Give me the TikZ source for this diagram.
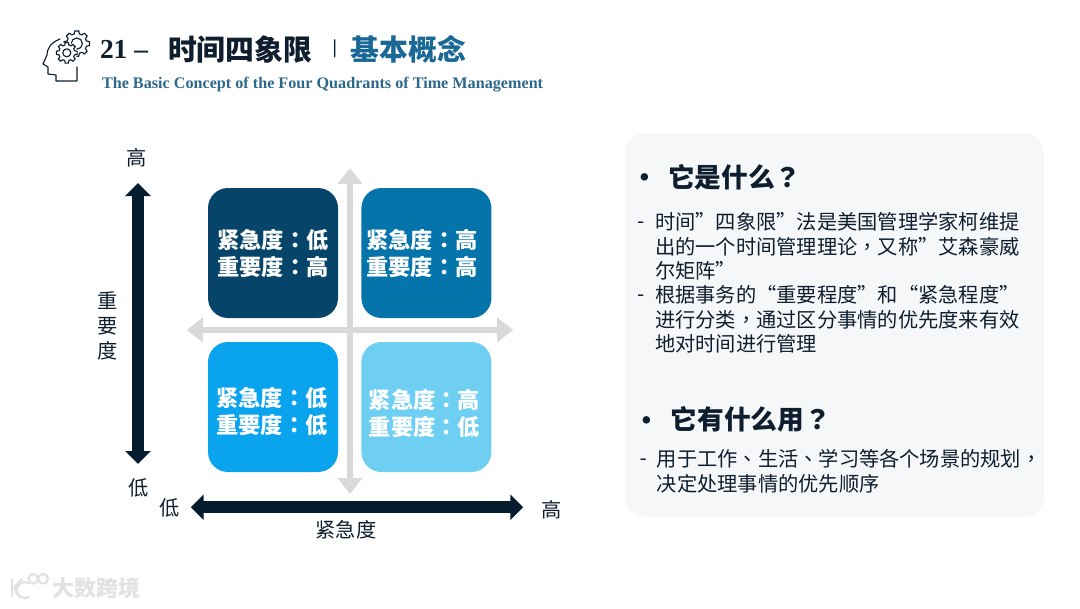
\documentclass[tikz,border=0pt]{standalone}
\usepackage{fontspec}
\setmainfont{Liberation Serif}
\newfontfamily\cjk{Noto Sans CJK SC}
\newfontfamily\cjkpunct{Noto Sans CJK TC}
\usetikzlibrary{arrows.meta, positioning}
\definecolor{titleink}{RGB}{14, 30, 46}
\definecolor{titleblue}{RGB}{26, 104, 150}
\definecolor{subblue}{RGB}{44, 104, 140}
\definecolor{navyarrow}{RGB}{5, 28, 46}
\definecolor{greyarrow}{RGB}{217, 217, 217}
\definecolor{panelgrey}{RGB}{246, 247, 249}
\definecolor{markgrey}{RGB}{226, 226, 226}
\definecolor{quadone}{RGB}{6, 68, 105}
\definecolor{quadtwo}{RGB}{4, 116, 171}
\definecolor{quadthree}{RGB}{10, 163, 238}
\definecolor{quadfour}{RGB}{111, 207, 242}
\newcommand{\pc}[1]{{\cjkpunct #1}}
\tikzset{
    every node/.style={inner sep=0pt, outer sep=0pt},
    quadbox/.style={minimum size=3.25cm, rounded corners=.5cm},
    quadtext/.style={text=white, align=center, font=\cjk\bfseries\fontsize{15.8}{19.2}\selectfont},
    axistext/.style={text=titleink, align=center, font=\cjk\fontsize{14.4}{17.8}\selectfont},
    headtext/.style={anchor=west, text=titleink, font=\cjk\bfseries\fontsize{19}{23}\selectfont},
    bodytext/.style={anchor=north west, text=titleink, align=left, font=\cjk\fontsize{14.4}{17.35}\selectfont},
    dashtext/.style={text=titleink, font=\fontsize{14.4}{17}\selectfont},
    bigtitle/.style={anchor=west, font=\cjk\bfseries\fontsize{20.5}{24}\selectfont},
    axisarrow/.style={navyarrow, line width=.3cm, {Triangle[width=.62cm,length=.32cm]}-{Triangle[width=.62cm,length=.32cm]}},
    crossarrow/.style={greyarrow, line width=.17cm, {Triangle[width=.6cm,length=.4cm]}-{Triangle[width=.6cm,length=.4cm]}},
    iconline/.style={titleink, line width=.8pt, line join=round, line cap=round},
    markline/.style={markgrey, line width=1.6pt, line cap=round}
}
\begin{document}
\begin{tikzpicture}
    \useasboundingbox (0,0) rectangle (27,15.2);

    % header
    \draw[iconline] (1.5,14.225) .. controls (1.25,14.13) and (1.17,13.95) .. (1.175,13.825)
        -- (1.075,13.6) -- (1.2,13.525) -- (1.2,13.35) -- (1.4,13.325) -- (1.4,13.175) -- (1.925,13.175) -- (1.925,13.525);
    \foreach \cx/\cy/\R/\r/\h in {1.92/14.11/.32/.25/.14, 1.67/13.88/.26/.2/.1} {
        \fill[white] (\cx,\cy) circle (\R);
        \draw[iconline] (\cx,\cy) circle (\h);
        \foreach \a in {0,45,...,315} {
            \draw[iconline, shift={(\cx,\cy)}] (\a-9:\R) -- (\a+9:\R) -- (\a+15:\r) -- (\a+30:\r) -- (\a+36:\R);
        }
    }
    \node[anchor=west, text=titleink, font=\bfseries\fontsize{19.5}{24}\selectfont] (titlenum) at (2.5,13.97) {21 –};
    \node[bigtitle, text=titleink] (titlemain) at (4.2,13.97) {时间四象限};
    \node[text=titleink, font=\bfseries\fontsize{14}{14}\selectfont] (titlebar) at (8.37,13.97) {|};
    \node[bigtitle, text=titleblue] (titlesub) at (8.77,13.97) {基本概念};
    \node[anchor=west, text=subblue, font=\bfseries\fontsize{11.5}{14}\selectfont] (subtitle) at (2.55,13.08) {The Basic Concept of the Four Quadrants of Time Management};

    % matrix
    \coordinate (crosstop) at (8.75,11.0);
    \coordinate (crosslow) at (8.75,2.85);
    \coordinate (crossleft) at (4.67,6.95);
    \coordinate (crossright) at (12.83,6.95);
    \draw[crossarrow] (crosstop) -- (crosslow);
    \draw[crossarrow] (crossleft) -- (crossright);

    \foreach \name/\x/\y/\col/\tx/\ty/\first/\second in {
        one/6.825/8.875/quadone/6.825/8.86/低/高,
        two/10.66/8.875/quadtwo/10.55/8.86/高/高,
        three/6.825/5.025/quadthree/6.8/4.9/低/低,
        four/10.66/5.025/quadfour/10.61/4.87/高/低} {
        \node[quadbox, fill=\col] (box\name) at (\x,\y) {};
        \node[quadtext] (text\name) at (\tx,\ty) {紧急度\pc{：}\first\\重要度\pc{：}\second};
    }

    \coordinate (impttop) at (3.45,10.62);
    \coordinate (imptlow) at (3.45,3.6);
    \coordinate (urgleft) at (4.77,2.52);
    \coordinate (urgright) at (13.08,2.52);
    \draw[axisarrow] (impttop) -- (imptlow);
    \draw[axisarrow] (urgleft) -- (urgright);

    \node[axistext] (impthigh) at (3.42,11.25) {高};
    \node[axistext] (imptname) at (2.68,7.05) {重\\要\\度};
    \node[axistext] (imptbase) at (3.47,3.0) {低};
    \node[axistext] (urgbase) at (4.25,2.5) {低};
    \node[axistext] (urghigh) at (13.78,2.45) {高};
    \node[axistext] (urgname) at (8.65,1.95) {紧急度};

    % panel
    \node[minimum width=10.475cm, minimum height=9.6cm, rounded corners=.5cm, fill=panelgrey] (panel) at (20.86,7.075) {};
    \node[headtext] (bulletone) at (15.78,10.68) {•};
    \node[headtext] (headone) at (16.7,10.78) {它是什么\pc{？}};
    \node[dashtext] (dashone) at (16.02,9.59) {-};
    \node[bodytext] (bodyone) at (16.38,9.88) {时间”四象限”法是美国管理学家柯维提\\出的一个时间管理理论\pc{，}又称”艾森豪威\\尔矩阵”};
    \node[dashtext] (dashtwo) at (16.02,7.75) {-};
    \node[bodytext] (bodytwo) at (16.38,8.06) {根据事务的“重要程度”和“紧急程度”\\进行分类\pc{，}通过区分事情的优先度来有效\\地对时间进行管理};
    \node[headtext] (bullettwo) at (15.825,4.6) {•};
    \node[headtext] (headtwo) at (16.77,4.72) {它有什么用\pc{？}};
    \node[dashtext] (dashthree) at (16.08,3.65) {-};
    \node[bodytext] (bodythree) at (16.42,3.96) {用于工作\pc{、}生活\pc{、}学习等各个场景的规划\pc{，}\\决定处理事情的优先顺序};

    % watermark
    \draw[markline] (.3,.72) -- (.3,.3);
    \draw[markline] (.55,.72) .. controls (.42,.6) and (.38,.55) .. (.36,.5) .. controls (.38,.42) and (.42,.36) .. (.5,.28);
    \draw[markline] (.72,.62) arc (60:300:.2);
    \draw[markline] (.83,.73) circle (.12);
    \draw[markline] (1.08,.73) circle (.12);
    \node[anchor=west, text=markgrey, font=\cjk\bfseries\fontsize{15.6}{18}\selectfont] (marktext) at (1.32,.5) {大数跨境};
\end{tikzpicture}
\end{document}
